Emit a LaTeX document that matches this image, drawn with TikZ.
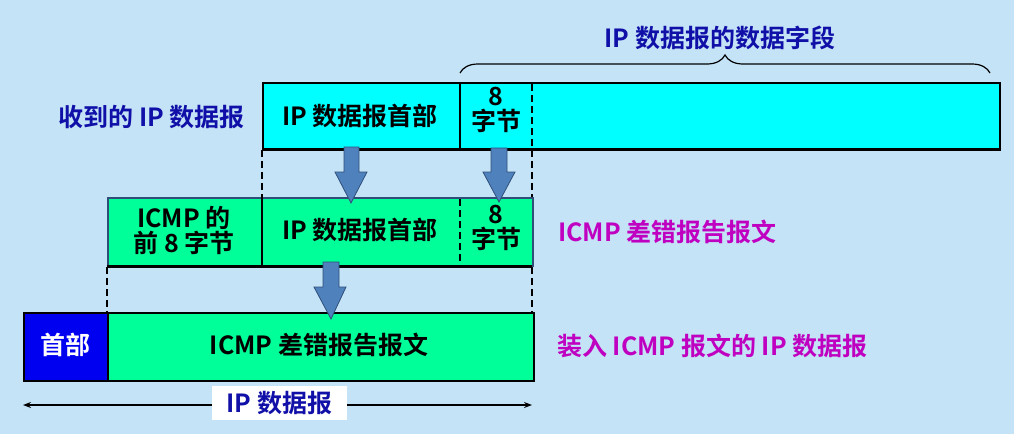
\documentclass[tikz,border=0pt]{standalone}
\usepackage{fontspec}
\setmainfont{Noto Sans CJK SC Bold}
\usetikzlibrary{decorations.pathreplacing,arrows.meta}
\definecolor{bgc}{HTML}{C4E3F7}
\definecolor{cyanc}{HTML}{00FFFF}
\definecolor{greenc}{HTML}{00FF99}
\definecolor{hdrc}{HTML}{0000F0}
\definecolor{arrf}{HTML}{4F81BD}
\definecolor{arrd}{HTML}{2F4F7A}
\definecolor{dblue}{HTML}{1010A8}
\definecolor{magc}{HTML}{C000C0}
\tikzset{
  cell/.style={draw=black, line width=1.5pt, inner sep=0pt, anchor=north west},
  txt/.style={inner sep=0pt, align=center, font=\fontsize{25}{25}\selectfont},
  lbl/.style={inner sep=0pt, font=\fontsize{25}{25}\selectfont},
  guide/.style={draw=black, line width=1.2pt, dash pattern=on 7pt off 4pt},
  bigarrow/.style={fill=arrf, draw=arrd, line width=0.8pt},
}
\begin{document}
\begin{tikzpicture}[x=1pt,y=-1pt]
\fill[bgc] (0,0) rectangle (1014,434);
\useasboundingbox (0,0) rectangle (1014,434);

% top box
\node[cell, fill=cyanc, minimum width=737pt, minimum height=67pt] (top) at (262,82) {};
\draw[line width=1.5pt] (460,82) -- (460,149);
\draw[guide] (532,84) -- (532,148);
\draw[line width=3pt] (262,149) -- (999,149);
\node[txt] (tHead) at (360,116) {IP 数据报首部};
\node[txt] (t8) at (496,110) {8\\字节};
\node[lbl, text=dblue, anchor=east] (recv) at (245,117) {收到的 IP 数据报};

% brace
\coordinate (bl) at (460,73);
\coordinate (br) at (990,73);
\draw[line width=1.2pt, decoration={brace, amplitude=18pt}, decorate] (bl) -- (br);
\node[lbl, text=dblue] (dataf) at (720,38) {IP 数据报的数据字段};

% guides top -> middle
\draw[guide] (262,150) -- (262,197);
\draw[guide] (532,150) -- (532,197);

% middle box
\node[cell, draw=arrd, fill=greenc, minimum width=425pt, minimum height=68pt] (mid) at (107,197) {};
\draw[line width=1.2pt] (262,197) -- (262,265);
\draw[guide] (460,199) -- (460,264);
\draw[line width=3pt] (107,266) -- (532,266);
\node[txt] (m8f) at (184,230) {ICMP 的\\前 8 字节};
\node[txt] (mHead) at (360,230) {IP 数据报首部};
\node[txt] (m8) at (496,228) {8\\字节};
\node[lbl, text=magc, anchor=west] (icmpl) at (558,232) {ICMP 差错报告报文};

% arrows top -> middle
\draw[bigarrow] (344,147) -- (359,147) -- (359,172) -- (367,172) -- (351,203) -- (335,172) -- (344,172) -- cycle;
\draw[bigarrow] (491,148) -- (507,148) -- (507,172) -- (515,172) -- (499,202) -- (483,172) -- (491,172) -- cycle;

% guides middle -> bottom
\draw[guide] (107,267) -- (107,312);
\draw[guide] (532,267) -- (532,312);

% bottom box
\node[cell, fill=greenc, minimum width=510pt, minimum height=68pt] (bot) at (23,312) {};
\node[cell, fill=hdrc, minimum width=84pt, minimum height=68pt] (bhdr) at (23,312) {};
\node[txt, text=white] (bhdrt) at (65,345) {首部};
\node[txt] (bmsg) at (319,345) {ICMP 差错报告报文};
\node[lbl, text=magc, anchor=west] (packl) at (557,346) {装入 ICMP 报文的 IP 数据报};

% arrow middle -> bottom
\draw[bigarrow] (323,262) -- (339,262) -- (339,287) -- (346,287) -- (331,319) -- (314,287) -- (323,287) -- cycle;

% span arrow
\coordinate (sl) at (23,405);
\coordinate (sr) at (532,405);
\draw[{Stealth[length=8pt,width=6pt]}-{Stealth[length=8pt,width=6pt]}, line width=1.3pt] (sl) -- (sr);
\node[fill=white, minimum width=135pt, minimum height=34pt, inner sep=0pt, text=dblue, font=\fontsize{25}{25}\selectfont] (ipd) at (279.5,403) {IP 数据报};
\end{tikzpicture}
\end{document}
